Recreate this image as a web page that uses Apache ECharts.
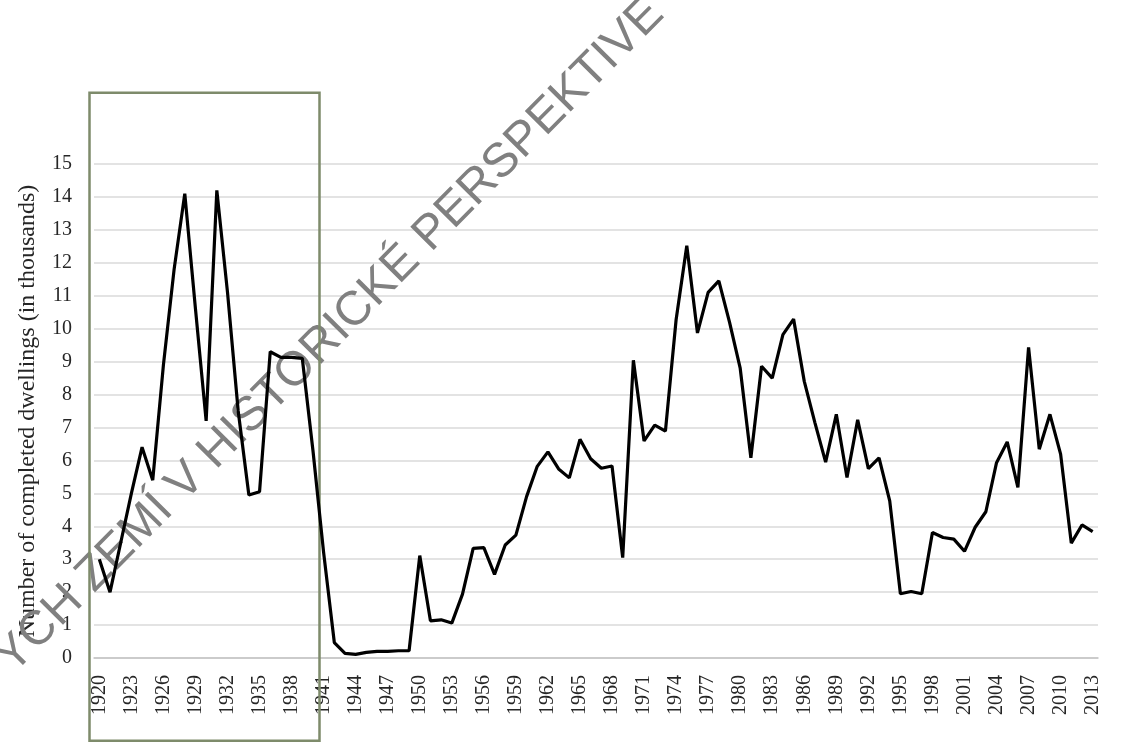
<!DOCTYPE html>
<html>
<head>
<meta charset="utf-8">
<script src="https://cdn.jsdelivr.net/npm/echarts@6/dist/echarts.min.js"></script>
<style>
html,body{margin:0;padding:0;background:#fff;}
#chart{width:1127px;height:742px;}
</style>
</head>
<body>
<div id="chart"></div>
<script>
const years = [];
for (let y = 1920; y <= 2013; y++) years.push(String(y));

const dwellings = [
  3.0, 2.0, 3.5, 5.0, 6.4, 5.4, 8.9, 11.8, 14.1, 10.6,
  7.2, 14.2, 11.1, 7.5, 4.95, 5.05, 9.3, 9.13, 9.13, 9.1,
  6.3, 3.2, 0.47, 0.14, 0.11, 0.17, 0.2, 0.2, 0.22, 0.22,
  3.11, 1.13, 1.16, 1.06, 1.94, 3.33, 3.35, 2.54, 3.43, 3.73,
  4.9, 5.82, 6.26, 5.74, 5.47, 6.64, 6.05, 5.76, 5.83, 3.05,
  9.04, 6.59, 7.07, 6.89, 10.27, 12.52, 9.87, 11.1, 11.45, 10.2,
  8.8, 6.08, 8.86, 8.5, 9.82, 10.29, 8.4, 7.14, 5.95, 7.4,
  5.48, 7.23, 5.75, 6.08, 4.77, 1.95, 2.02, 1.95, 3.81, 3.66,
  3.61, 3.24, 3.97, 4.44, 5.93, 6.56, 5.18, 9.43, 6.34, 7.4,
  6.19, 3.49, 4.04, 3.84
];

const yAxisTitle = 'Number of completed dwellings (in thousands)';
const watermark = 'YCH ZEMÍ V HISTORICKÉ PERSPEKTIVE';

const chart = echarts.init(document.getElementById('chart'), null, {renderer: 'canvas'});
chart.setOption({
  animation: false,
  backgroundColor: '#ffffff',
  grid: {left: 94, right: 29, top: 164, bottom: 84, containLabel: false},
  xAxis: {
    type: 'category',
    data: years,
    boundaryGap: true,
    axisLine: {show: true, lineStyle: {color: '#c4c4c4', width: 1.5}},
    axisTick: {show: false},
    axisLabel: {
      interval: 2,
      rotate: 90,
      margin: 17,
      fontFamily: 'Liberation Serif',
      fontSize: 20,
      color: '#262626'
    },
    splitLine: {show: false}
  },
  yAxis: {
    type: 'value',
    min: 0, max: 15, interval: 1,
    name: yAxisTitle,
    nameLocation: 'middle',
    nameGap: 54,
    nameRotate: 90,
    nameTextStyle: {fontFamily: 'Liberation Serif', fontSize: 24, color: '#262626'},
    axisLine: {show: false},
    axisTick: {show: false},
    axisLabel: {margin: 22, fontFamily: 'Liberation Serif', fontSize: 20, color: '#262626'},
    splitLine: {show: true, lineStyle: {color: '#dadada', width: 1.5}}
  },
  graphic: [
    {
      type: 'text',
      z: 1,
      x: 330, y: 336,
      rotation: 45.3 * Math.PI / 180,
      style: {
        text: watermark,
        fontFamily: 'Liberation Sans',
        fontSize: 48,
        fill: '#808080',
        align: 'center',
        verticalAlign: 'middle'
      }
    },
    {
      type: 'rect',
      z: 3,
      shape: {x: 89.5, y: 92.8, width: 230, height: 648},
      style: {fill: 'none', stroke: '#7e8b6b', lineWidth: 2.5}
    }
  ],
  series: [{
    type: 'line',
    data: dwellings,
    showSymbol: false,
    symbol: 'none',
    lineStyle: {color: '#000000', width: 3.2},
    z: 5
  }]
});
</script>
</body>
</html>
